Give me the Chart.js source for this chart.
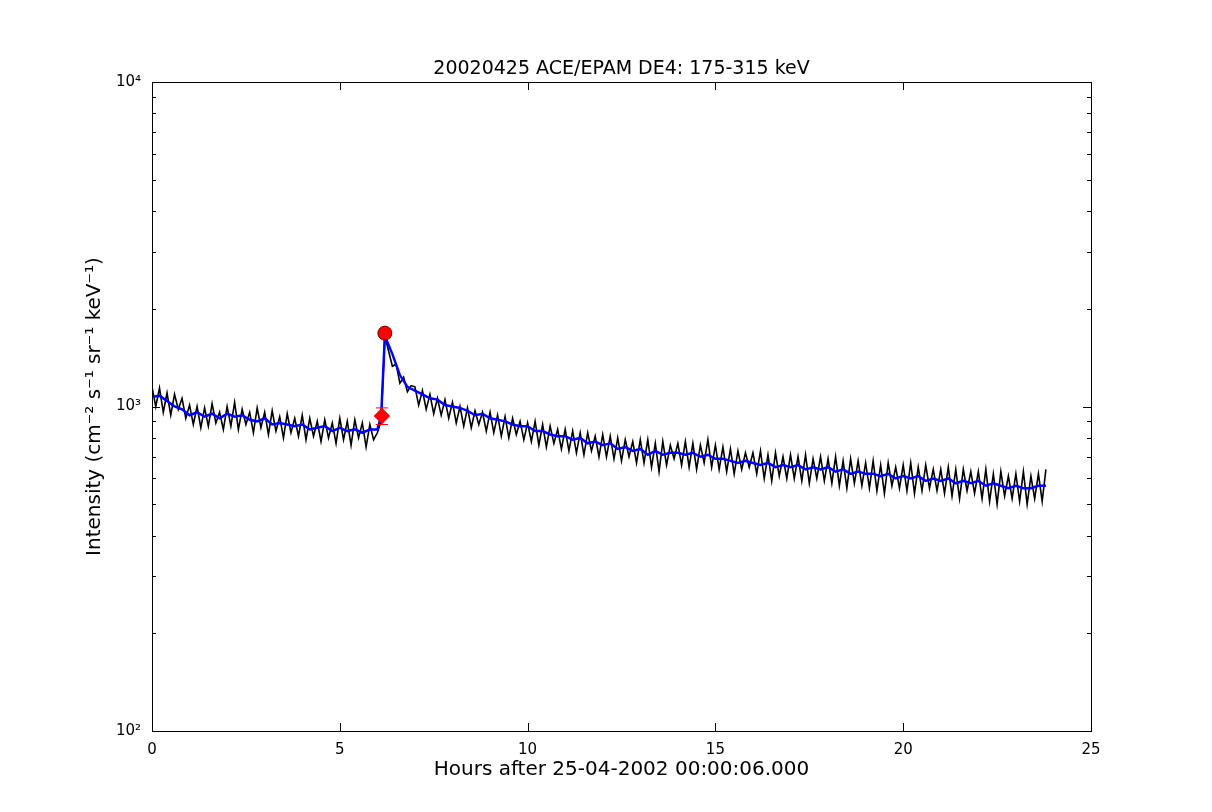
<!DOCTYPE html>
<html><head><meta charset="utf-8">
<script src="https://cdn.jsdelivr.net/npm/chart.js@4"></script>
<style>body{margin:0;background:#fff}#c{display:block}</style>
</head><body>
<canvas id="c" width="1212" height="812"></canvas>
<script>
// raw intensity, 0.1 h steps from 0 to 23.8 h
const rawValues = [
 1150,1000,1140,960,1100,940,1090,980,1060,920,
 1010,880,1000,860,990,870,1020,890,960,850,
 1000,870,1030,850,980,880,960,830,990,860,
 960,820,970,840,930,800,950,830,920,810,
 940,790,920,810,900,780,910,800,890,770,
 920,790,900,760,910,800,890,750,880,790,
 830,900,1650,1480,1330,1350,1180,1230,1110,1160,
 1150,1010,1120,980,1090,950,1060,940,1050,920,
 1030,890,1000,870,990,860,970,880,960,840,
 960,830,940,810,930,800,920,820,900,790,
 890,780,900,760,880,750,870,770,850,740,
 850,730,840,720,830,710,830,730,810,700,
 820,700,810,690,800,680,790,700,780,670,
 790,670,790,650,770,630,780,660,760,690,
 770,660,780,650,770,640,760,670,790,650,
 760,640,750,630,740,620,730,640,720,650,
 720,620,730,600,710,590,720,610,700,600,
 710,600,700,590,710,580,690,600,700,590,
 690,580,700,570,680,560,690,580,680,570,
 670,560,680,550,660,540,670,570,650,560,
 660,550,670,540,650,550,660,560,640,550,
 640,540,650,530,640,520,640,550,630,540,
 630,520,640,510,620,500,630,530,610,520,
 620,510,630,500,610,520,620,510,640
];
const smoothHours = [
 0,0.2,0.4,0.6,0.8,1,1.2,1.4,1.6,1.8,2,2.2,2.4,2.6,2.8,3,3.2,3.4,3.6,3.8,
 4,4.2,4.4,4.6,4.8,5,5.2,5.4,5.6,5.8,6.0,6.1,6.2,6.4,6.6,6.8,7.0,
 7.2,7.4,7.6,7.8,8,8.2,8.4,8.6,8.8,9,9.2,9.4,9.6,9.8,
 10,10.2,10.4,10.6,10.8,11,11.2,11.4,11.6,11.8,
 12,12.2,12.4,12.6,12.8,13,13.2,13.4,13.6,13.8,
 14,14.2,14.4,14.6,14.8,15,15.2,15.4,15.6,15.8,
 16,16.2,16.4,16.6,16.8,17,17.2,17.4,17.6,17.8,
 18,18.2,18.4,18.6,18.8,19,19.2,19.4,19.6,19.8,
 20,20.2,20.4,20.6,20.8,21,21.2,21.4,21.6,21.8,
 22,22.2,22.4,22.6,22.8,23,23.2,23.4,23.6,23.8
];
const smoothValues = [
 1070,1080,1040,1000,980,940,960,930,950,920,950,930,940,910,900,920,880,890,880,870,
 880,850,860,870,840,860,840,850,830,850,850,930,1650,1450,1250,1150,1120,
 1090,1060,1050,1010,1000,990,970,940,950,920,910,900,880,870,
 870,840,840,820,810,810,790,800,770,780,
 760,770,740,750,730,740,710,730,710,720,
 720,710,720,700,710,690,690,680,670,680,
 670,660,670,650,660,650,660,640,650,640,
 650,630,640,620,630,620,620,610,620,600,
 610,600,610,590,600,590,600,580,590,580,
 590,570,580,570,560,570,560,560,570,570
];
const onsetPoint = {x: 6.12, y: 935};
const peakPoint = {x: 6.2, y: 1683};
const xTicks = [0, 5, 10, 15, 20, 25];
const yTicks = [100, 1000, 10000];
const supers = {100: '10²', 1000: '10³', 10000: '10⁴'};

const rawData = rawValues.map((v, i) => ({x: i * 0.1, y: v}));
const smoothData = smoothHours.map((h, i) => ({x: h, y: smoothValues[i]}));

const frame = {
  id: 'frame',
  afterDraw(chart) {
    const {ctx, chartArea: a, scales: {x, y}} = chart;
    ctx.save();
    ctx.strokeStyle = '#000'; ctx.lineWidth = 1;
    ctx.strokeRect(a.left + 0.5, a.top + 0.5, a.right - a.left, a.bottom - a.top);
    ctx.beginPath();
    for (let t = 0; t <= 25; t += 5) {
      const px = Math.round(x.getPixelForValue(t)) + 0.5;
      ctx.moveTo(px, a.bottom); ctx.lineTo(px, a.bottom - 8);
      ctx.moveTo(px, a.top); ctx.lineTo(px, a.top + 8);
    }
    for (let d = 100; d < 10000; d *= 10) {
      for (let m = 1; m <= 10; m++) {
        const py = Math.round(y.getPixelForValue(d * m)) + 0.5;
        const len = (m === 1 || m === 10) ? 8 : 4;
        ctx.moveTo(a.left, py); ctx.lineTo(a.left + len, py);
        ctx.moveTo(a.right, py); ctx.lineTo(a.right - len, py);
      }
    }
    ctx.stroke();
    // error bar on onset point
    const ox = x.getPixelForValue(onsetPoint.x);
    const y1 = y.getPixelForValue(880), y2 = y.getPixelForValue(990);
    ctx.strokeStyle = 'red';
    ctx.beginPath();
    ctx.moveTo(ox, y1); ctx.lineTo(ox, y2);
    ctx.moveTo(ox - 6, y1); ctx.lineTo(ox + 6, y1);
    ctx.moveTo(ox - 6, y2); ctx.lineTo(ox + 6, y2);
    ctx.stroke();
    ctx.fillStyle = '#000';
    ctx.textAlign = 'center'; ctx.textBaseline = 'alphabetic';
    ctx.font = '19px "DejaVu Sans"';
    ctx.fillText('20020425 ACE/EPAM DE4: 175-315 keV', (a.left + a.right) / 2, 74);
    ctx.font = '20px "DejaVu Sans"';
    ctx.fillText('Hours after 25-04-2002 00:00:06.000', (a.left + a.right) / 2, 775);
    ctx.translate(100, (a.top + a.bottom) / 2);
    ctx.rotate(-Math.PI / 2);
    ctx.fillText('Intensity (cm⁻² s⁻¹ sr⁻¹ keV⁻¹)', 0, 0);
    ctx.restore();
  }
};

new Chart(document.getElementById('c'), {
  type: 'scatter',
  data: {
    datasets: [
      {data: rawData, showLine: true, borderColor: '#000', borderWidth: 1.6, pointRadius: 0, order: 3},
      {data: smoothData, showLine: true, borderColor: '#0000ff', borderWidth: 2.5, pointRadius: 0, order: 2},
      {data: [onsetPoint], pointStyle: 'rectRot', pointRadius: 8, backgroundColor: 'red', borderColor: '#a00', borderWidth: 0.5, order: 1},
      {data: [peakPoint], pointStyle: 'circle', pointRadius: 7, backgroundColor: 'red', borderColor: '#600', borderWidth: 1, order: 1}
    ]
  },
  options: {
    responsive: false, animation: false,
    layout: {padding: {top: 82, right: 121, left: 0, bottom: 0}},
    plugins: {legend: {display: false}, tooltip: {enabled: false}},
    scales: {
      x: {
        type: 'linear', min: 0, max: 25,
        afterBuildTicks: s => { s.ticks = xTicks.map(v => ({value: v})); },
        afterFit: s => { s.height = 81; },
        grid: {display: false}, border: {display: false},
        ticks: {color: '#000', font: {family: 'DejaVu Sans', size: 15}, padding: 2}
      },
      y: {
        type: 'logarithmic', min: 100, max: 10000,
        afterBuildTicks: s => { s.ticks = yTicks.map(v => ({value: v})); },
        afterFit: s => { s.width = 152; },
        grid: {display: false}, border: {display: false},
        ticks: {color: '#000', font: {family: 'DejaVu Sans', size: 15}, callback: v => supers[v] || ''}
      }
    }
  },
  plugins: [frame]
});
</script>
</body></html>
